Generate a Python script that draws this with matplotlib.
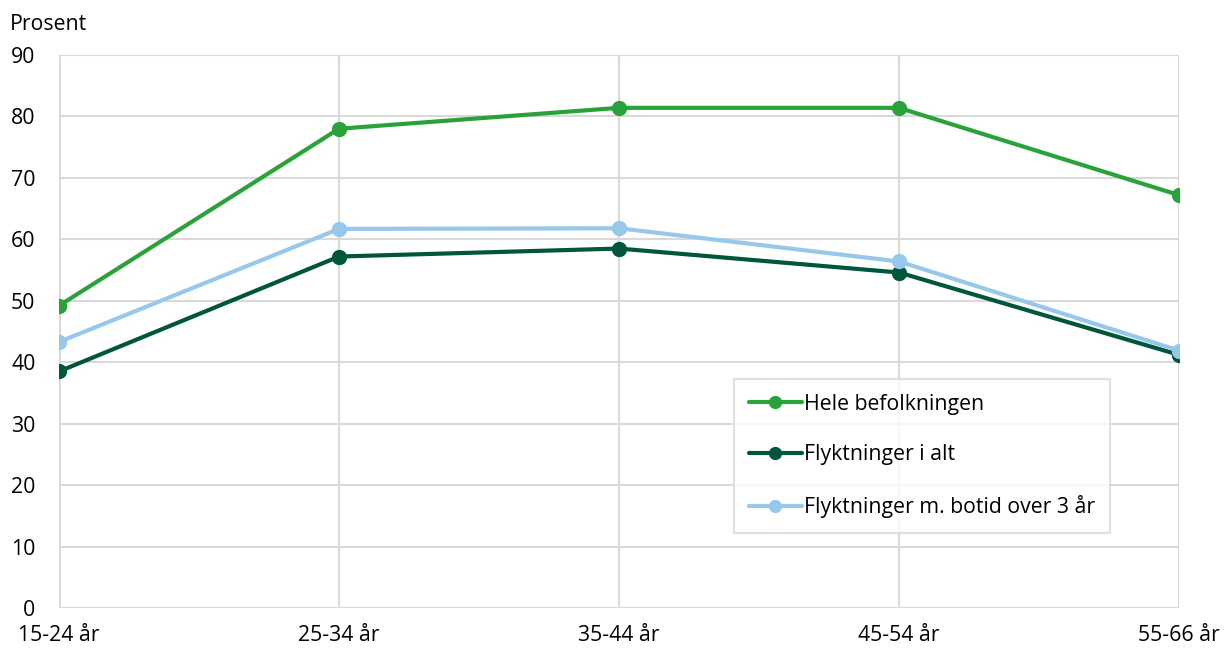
import matplotlib
matplotlib.use("Agg")
import matplotlib.pyplot as plt

categories = ["15-24 år", "25-34 år", "35-44 år", "45-54 år", "55-66 år"]
hele = [49.2, 78.0, 81.4, 81.4, 67.2]
flykt_alt = [38.5, 57.2, 58.5, 54.6, 41.2]
flykt_botid = [43.3, 61.7, 61.8, 56.4, 41.9]
series_labels = ["Hele befolkningen", "Flyktninger i alt", "Flyktninger m. botid over 3 år"]
colors = ["#2aa23a", "#00553d", "#97c8ec"]
yticks = [0, 10, 20, 30, 40, 50, 60, 70, 80, 90]

plt.rcParams['font.family'] = ['Open Sans', 'DejaVu Sans']
fs = 15.3

fig = plt.figure(figsize=(12.24, 6.5), dpi=100)
ax = fig.add_axes([59/1224, 1-608/650, 1120/1224, 553/650])

x = list(range(len(categories)))
for vals, lab, c in zip([hele, flykt_alt, flykt_botid], series_labels, colors):
    ax.plot(x, vals, color=c, lw=3, marker='o', ms=10, label=lab, solid_capstyle='round', zorder=3)

ax.set_xlim(0, len(categories) - 1)
ax.set_ylim(0, 90)
ax.set_xticks(x)
ax.set_xticklabels(categories, fontsize=fs)
ax.set_yticks(yticks)
ax.set_yticklabels([str(t) for t in yticks], fontsize=fs)
ax.tick_params(axis='y', length=0, pad=17)
ax.tick_params(axis='x', length=0, pad=12)
ax.grid(True, color='#d9d9d9', lw=1.5, zorder=0)
for s in ax.spines.values():
    s.set_visible(False)
ax.axvline(0, color='#d9d9d9', lw=2, zorder=1)
ax.axhline(0, color='#d9d9d9', lw=2, zorder=1)
ax.set_axisbelow(True)

fig.text(10/1224, 1-24/650, "Prosent", fontsize=fs, va='center', ha='left')

leg = ax.legend(loc='upper left', bbox_to_anchor=(0.6027, 0.414), fontsize=fs,
                frameon=True, fancybox=False, edgecolor='#d9d9d9', handlelength=2.5,
                handletextpad=0.1, labelspacing=1.39, borderpad=0.7, borderaxespad=0,
                markerscale=0.85)
leg.get_frame().set_linewidth(1.5)
fig.savefig("out.png", dpi=100, facecolor='white')
